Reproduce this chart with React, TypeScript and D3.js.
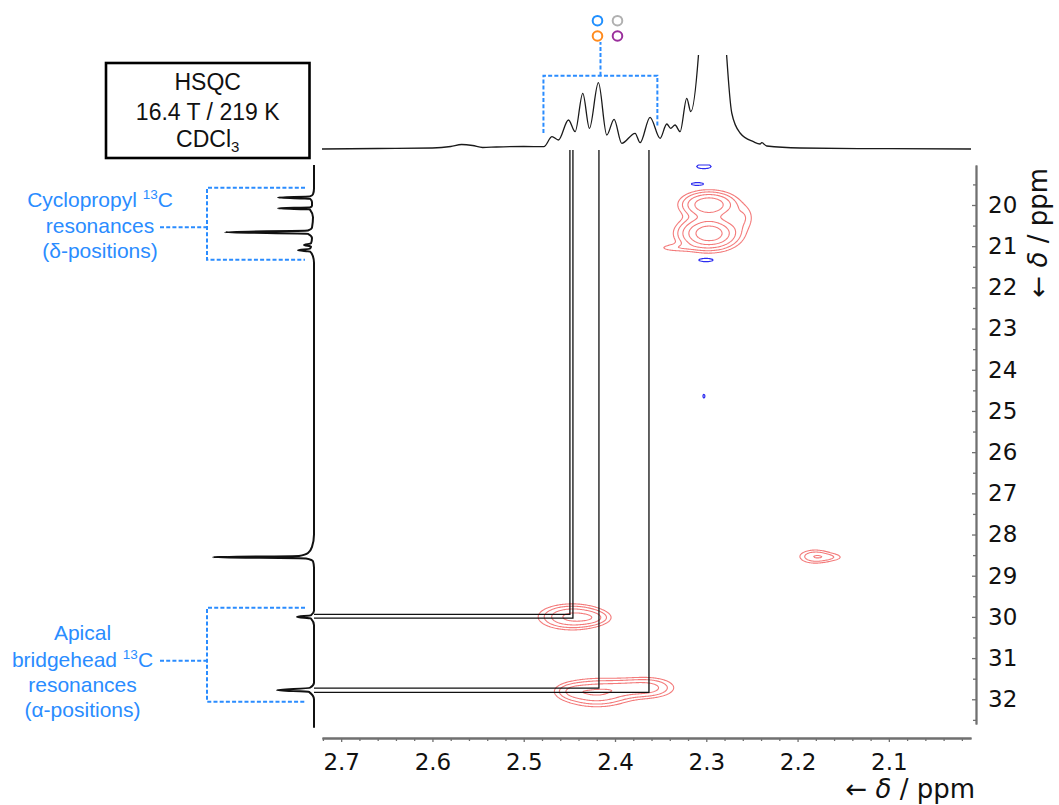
import React, { useEffect, useMemo, useRef } from 'react';
import * as d3 from 'd3';

// ---- axis ticks ----
const xTickValues = [2.7, 2.6, 2.5, 2.4, 2.3, 2.2, 2.1];
const yTickValues = [20, 21, 22, 23, 24, 25, 26, 27, 28, 29, 30, 31, 32];

// ---- 1H projection (ppm, intensity) ----
const protonShift = [2.721, 2.66, 2.6, 2.58, 2.568, 2.556, 2.545, 2.53, 2.5, 2.478, 2.469, 2.462, 2.451, 2.4437, 2.4353, 2.428, 2.4182, 2.409, 2.401, 2.3926, 2.378, 2.3725, 2.3616, 2.3506, 2.3433, 2.339, 2.3342, 2.3287, 2.3214, 2.317, 2.3087, 2.302, 2.294, 2.284, 2.2776, 2.2721, 2.263, 2.2484, 2.2411, 2.2393, 2.2338, 2.197, 2.1, 2.01];
const protonIntensity = [0, 0.5, 1, 2.5, 4.5, 3.5, 1.5, 2, 2.5, 2.3, 12.3, 9, 29, 17.3, 55.7, 20.7, 66.3, 14, 29.7, 5.7, 15.7, 6.3, 31.7, 10.7, 25, 20.7, 24, 17.3, 50.7, 37.3, 92.3, 200, 400, 200, 92.3, 36, 16, 7.3, 5, 6.3, 3, 1, 0.3, 0];

// ---- 13C projection (ppm, intensity) ----
const carbonShift = [19.03, 19.6, 19.74, 19.79, 19.82, 19.85, 19.93, 20.02, 20.06, 20.08, 20.11, 20.3, 20.55, 20.62, 20.66, 20.7, 20.8, 20.93, 20.97, 21.01, 21.06, 21.1, 21.13, 21.25, 21.4, 28.0, 28.3, 28.45, 28.52, 28.55, 28.58, 28.65, 28.8, 29.85, 29.96, 30.0, 30.04, 30.2, 31.6, 31.72, 31.78, 31.82, 32.0, 32.69];
const carbonIntensity = [0, 0, 1, 4, 36, 4, 2, 2, 4, 36, 4, 1, 2, 6, 89, 6, 2, 3, 10, 3, 4, 16, 4, 1, 0, 0, 2, 6, 15, 101, 8, 1, 0, 0, 3, 17, 3, 0, 0, 4, 37, 5, 0, 0];

// ---- HSQC cross peaks: positive phase ----
const posH = [2.297, 2.297, 2.259, 2.335, 2.447, 2.425, 2.42, 2.392, 2.365, 2.447, 2.181, 2.163];
const posC = [19.99, 20.69, 20.3, 21.04, 30.0, 30.02, 31.84, 31.73, 31.72, 31.8, 28.535, 28.55];
const posAmp = [0.6, 0.85, 0.12, 0.1, 0.45, 0.15, 0.4, 0.12, 0.3, 0.14, 0.22, 0.1];
const posWidthH = [0.017, 0.018, 0.008, 0.015, 0.02, 0.012, 0.022, 0.015, 0.018, 0.012, 0.0115, 0.011];
const posWidthC = [0.18, 0.22, 0.2, 0.07, 0.17, 0.1, 0.19, 0.13, 0.15, 0.12, 0.11, 0.07];

// ---- HSQC cross peaks: negative phase ----
const negH = [2.3026, 2.3097, 2.3004, 2.3026];
const negC = [19.066, 19.49, 21.336, 24.64];
const negAmp = [0.15, 0.15, 0.15, 0.12];
const negWidthH = [0.007, 0.006, 0.007, 0.0012];
const negWidthC = [0.045, 0.03, 0.035, 0.05];

const contourLevels = [0.08, 0.14, 0.24, 0.4, 0.62];
const negativeLevels = [0.08];

// ---- correlation guides (1H shift, 13C shift) ----
const linkH = [2.4494, 2.4461, 2.4176, 2.3628];
const linkC = [29.94, 30.03, 31.73, 31.83];

// ---- multiplet markers ----
const markerColors = ['#1f8fff', '#b0b0b0', '#ff8a1c', '#9a2f9c'];

const BLUE = '#2a8cff';
const AXIS_GREY = '#707070';
const TICK_FONT = 'DejaVu Sans, Verdana, sans-serif';
const LABEL_FONT = 'Liberation Sans, Arial, sans-serif';

const PLOT = { left: 322, right: 971, top: 165, bottom: 724 };

function gaussGrid(
  nx: number, ny: number,
  xs: d3.ScaleLinear<number, number>, ys: d3.ScaleLinear<number, number>,
  H: number[], C: number[], A: number[], WH: number[], WC: number[]
) {
  const values = new Float64Array(nx * ny);
  for (let k = 0; k < H.length; k++) {
    const cx = xs(H[k]) - PLOT.left;
    const cy = ys(C[k]) - PLOT.top;
    const sxp = Math.abs(xs(H[k] + WH[k]) - xs(H[k]));
    const syp = Math.abs(ys(C[k] + WC[k]) - ys(C[k]));
    const i0 = Math.max(0, Math.floor(cx - 5 * sxp)), i1 = Math.min(nx - 1, Math.ceil(cx + 5 * sxp));
    const j0 = Math.max(0, Math.floor(cy - 5 * syp)), j1 = Math.min(ny - 1, Math.ceil(cy + 5 * syp));
    for (let j = j0; j <= j1; j++) {
      const dy = (j + 0.5 - cy) / syp;
      for (let i = i0; i <= i1; i++) {
        const dx = (i + 0.5 - cx) / sxp;
        values[j * nx + i] += A[k] * Math.exp(-0.5 * (dx * dx + dy * dy));
      }
    }
  }
  return values;
}

export default function App() {
  const xAxisRef = useRef<SVGGElement>(null);
  const yAxisRef = useRef<SVGGElement>(null);

  const x = d3.scaleLinear().domain([2.721, 2.01]).range([PLOT.left, PLOT.right]);
  const y = d3.scaleLinear().domain([19.029, 32.6]).range([PLOT.top, PLOT.bottom]);
  const hInt = d3.scaleLinear().domain([0, 100]).range([149, 49]);
  const cInt = d3.scaleLinear().domain([0, 100]).range([314, 214]);

  const protonPath = d3
    .line<number>()
    .x((i) => x(protonShift[i]))
    .y((i) => hInt(protonIntensity[i]))
    .curve(d3.curveMonotoneX)(d3.range(protonShift.length)) as string;

  const carbonPath = d3
    .line<number>()
    .x((i) => cInt(carbonIntensity[i]))
    .y((i) => y(carbonShift[i]))
    .curve(d3.curveMonotoneY)(d3.range(carbonShift.length)) as string;

  const contours = useMemo(() => {
    const nx = PLOT.right - PLOT.left;
    const ny = PLOT.bottom - PLOT.top;
    const pos = gaussGrid(nx, ny, x, y, posH, posC, posAmp, posWidthH, posWidthC);
    const neg = gaussGrid(nx, ny, x, y, negH, negC, negAmp, negWidthH, negWidthC);
    const gen = d3.contours().size([nx, ny]);
    const path = d3.geoPath(d3.geoIdentity().translate([PLOT.left, PLOT.top]) as any);
    return {
      pos: gen.thresholds(contourLevels)(Array.from(pos)).map((c) => path(c as any) || ''),
      neg: gen.thresholds(negativeLevels)(Array.from(neg)).map((c) => path(c as any) || ''),
    };
  }, []);

  useEffect(() => {
    const gx = d3.select(xAxisRef.current!);
    gx.selectAll('*').remove();
    const xMinor = d3.range(101, 137).map((k) => k / 50).filter((v) => !xTickValues.some((t) => Math.abs(t - v) < 1e-6));
    gx.append('g').call(d3.axisBottom(x).tickValues(xMinor).tickSize(3).tickSizeOuter(0).tickFormat(() => ''));
    gx.append('g').call(
      d3.axisBottom(x).tickValues(xTickValues).tickSize(4).tickSizeOuter(0).tickPadding(12).tickFormat(d3.format('.1f'))
    );
    const gy = d3.select(yAxisRef.current!);
    gy.selectAll('*').remove();
    const yMinor = d3.range(39, 66, 2).map((k) => k / 2);
    gy.append('g').call(d3.axisRight(y).tickValues(yMinor).tickSizeInner(-3).tickSizeOuter(0).tickFormat(() => ''));
    gy.append('g').call(
      d3.axisRight(y).tickValues(yTickValues).tickSizeInner(-4).tickSizeOuter(0).tickPadding(12).tickFormat(d3.format('d'))
    );
    for (const g of [gx, gy]) {
      g.selectAll('.domain').attr('stroke', AXIS_GREY).attr('stroke-width', 1.8);
      g.selectAll('.tick line').attr('stroke', AXIS_GREY).attr('stroke-width', 1.3);
      g.selectAll('.tick text').attr('fill', '#111').attr('font-size', 23).attr('font-family', TICK_FONT);
    }
  }, []);

  const dash = '4 2.2';
  const cx0 = cInt(0);
  const guideTop = hInt(0) + 1;

  return (
    <svg
      width={1059}
      height={805}
      style={{ position: 'absolute', left: 0, top: 0, background: '#fff' }}
    >
      <defs>
        <clipPath id="proton-clip">
          <rect x={PLOT.left} y={55} width={PLOT.right - PLOT.left} height={100} />
        </clipPath>
      </defs>

      {/* experiment info box */}
      <rect x={106} y={63} width={203.5} height={95} fill="#fff" stroke="#000" strokeWidth={2.6} />
      <g fontFamily={LABEL_FONT} fontSize={23} textAnchor="middle" fill="#111">
        <text x={207.7} y={89.5}>HSQC</text>
        <text x={207.7} y={119.5}>16.4 T / 219 K</text>
        <text x={207.7} y={146.5}>
          CDCl<tspan fontSize={15} dy={5}>3</tspan>
        </text>
      </g>

      {/* 2D contours */}
      <g fill="none" stroke="#f05a5a" strokeOpacity={0.8} strokeWidth={1.1}>
        {contours.pos.map((d, i) => (
          <path key={i} d={d} />
        ))}
      </g>
      <g fill="none" stroke="#2c2cf0" strokeWidth={1.2}>
        {contours.neg.map((d, i) => (
          <path key={i} d={d} />
        ))}
      </g>

      {/* correlation guides */}
      <g fill="none" stroke="#111" strokeWidth={1.3}>
        {linkH.map((h, i) => (
          <path key={i} d={`M${x(h)},${guideTop}V${y(linkC[i])}H${cx0}`} />
        ))}
      </g>

      {/* projections */}
      <g clipPath="url(#proton-clip)">
        <path d={protonPath} fill="none" stroke="#1a1a1a" strokeWidth={1.3} />
      </g>
      <path d={carbonPath} fill="none" stroke="#111" strokeWidth={2} />

      {/* multiplet bracket on the 1H projection */}
      <g fill="none" stroke={BLUE} strokeWidth={2} strokeDasharray={dash}>
        <path d={`M${x(2.4784)},133V75.7H${x(2.3536)}V127`} />
        <path d={`M${x(2.4159)},75.7V42`} />
      </g>
      <g fill="none" strokeWidth={2}>
        {markerColors.map((c, i) => (
          <circle key={i} cx={x(2.4192) + (i % 2) * 20} cy={20.7 + Math.floor(i / 2) * 15.3} r={4.8} stroke={c} />
        ))}
      </g>

      {/* brackets on the 13C projection */}
      <g fill="none" stroke={BLUE} strokeWidth={2} strokeDasharray={dash}>
        <path d={`M305,${y(19.58)}H207V${y(21.33)}H305`} />
        <path d={`M160,227.3H207`} />
        <path d={`M305,${y(29.78)}H207V${y(32.06)}H305`} />
        <path d={`M160,660.7H207`} />
      </g>
      <g fontFamily={LABEL_FONT} fontSize={21} fill={BLUE} textAnchor="middle">
        <text x={100} y={206.5}>
          Cyclopropyl <tspan fontSize={13.5} dy={-8}>13</tspan>
          <tspan dy={8}>C</tspan>
        </text>
        <text x={100} y={232.5}>resonances</text>
        <text x={100} y={257.5}>(δ-positions)</text>
        <text x={82.5} y={640}>Apical</text>
        <text x={82.5} y={666.5}>
          bridgehead  <tspan fontSize={13.5} dy={-8}>13</tspan>
          <tspan dy={8}>C</tspan>
        </text>
        <text x={82.5} y={691.7}>resonances</text>
        <text x={82.5} y={716.7}>(α-positions)</text>
      </g>

      {/* axes */}
      <g ref={xAxisRef} transform="translate(0,738)" />
      <g ref={yAxisRef} transform="translate(976,0)" />
      <g fontFamily={TICK_FONT} fontSize={26} fill="#111">
        <text x={975} y={798} textAnchor="end">
          ← <tspan fontStyle="italic">δ</tspan> / ppm
        </text>
        <text transform="translate(1047,168) rotate(-90)" textAnchor="end">
          ← <tspan fontStyle="italic">δ</tspan> / ppm
        </text>
      </g>
    </svg>
  );
}
